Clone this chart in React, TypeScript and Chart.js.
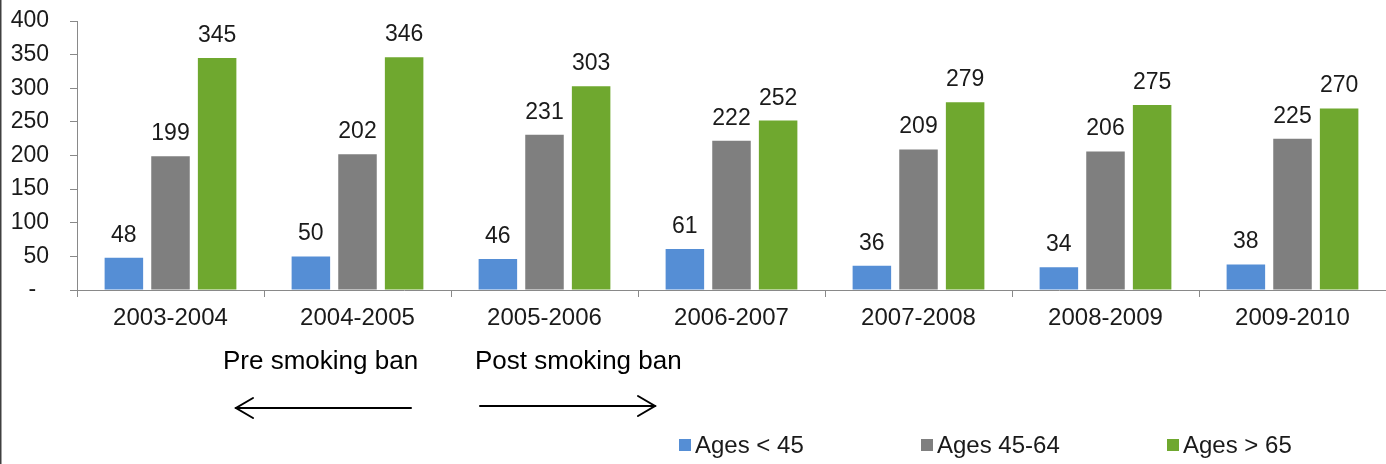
import React, { useEffect, useRef } from "react";
import { Chart, registerables } from "chart.js";

Chart.register(...registerables);

// Hospital admissions by age group, per financial year
const categories = [
  "2003-2004",
  "2004-2005",
  "2005-2006",
  "2006-2007",
  "2007-2008",
  "2008-2009",
  "2009-2010",
];
const under45 = [48, 50, 46, 61, 36, 34, 38];
const ages45to64 = [199, 202, 231, 222, 209, 206, 225];
const over65 = [345, 346, 303, 252, 279, 275, 270];

const seriesLabels = ["Ages < 45", "Ages 45-64", "Ages > 65"];
const seriesColors = ["#558ED5", "#7F7F7F", "#6FA82F"];

const yMax = 400;
const yStep = 50;

const FONT = "'Liberation Sans', Arial, sans-serif";
const AXIS_COLOR = "#898989";
const TEXT_COLOR = "#1a1a1a";

// Value labels above every bar
const valueLabels = {
  id: "valueLabels",
  afterDatasetsDraw(chart: any) {
    const ctx = chart.ctx;
    ctx.save();
    ctx.font = `23px ${FONT}`;
    ctx.fillStyle = TEXT_COLOR;
    ctx.textAlign = "center";
    ctx.textBaseline = "alphabetic";
    chart.data.datasets.forEach((ds: any, i: number) => {
      const meta = chart.getDatasetMeta(i);
      meta.data.forEach((bar: any, j: number) => {
        ctx.fillText(String(ds.data[j]), bar.x, bar.y - 16);
      });
    });
    ctx.restore();
  },
};

// Frame line, smoking-ban notes with arrows, and the legend row
const decorations = {
  id: "decorations",
  afterDraw(chart: any) {
    const ctx = chart.ctx;
    ctx.save();

    // left frame line
    ctx.strokeStyle = "#404040";
    ctx.lineWidth = 1.5;
    ctx.beginPath();
    ctx.moveTo(0.75, 0);
    ctx.lineTo(0.75, chart.height);
    ctx.stroke();

    // notes
    ctx.fillStyle = "#000";
    ctx.font = `26px ${FONT}`;
    ctx.textAlign = "left";
    ctx.textBaseline = "alphabetic";
    ctx.fillText("Pre smoking ban", 223, 369);
    ctx.fillText("Post smoking ban", 475, 369);

    // arrows
    ctx.strokeStyle = "#000";
    ctx.lineWidth = 2;
    ctx.lineCap = "round";
    ctx.lineJoin = "miter";
    const arrow = (x1: number, x2: number, y: number) => {
      // shaft from x1 to the tip at x2
      const dir = x2 > x1 ? 1 : -1;
      ctx.beginPath();
      ctx.moveTo(x1, y);
      ctx.lineTo(x2, y);
      ctx.stroke();
      ctx.beginPath();
      ctx.moveTo(x2 - dir * 17, y - 10);
      ctx.lineTo(x2, y);
      ctx.lineTo(x2 - dir * 17, y + 10);
      ctx.stroke();
    };
    arrow(411, 236, 408);
    arrow(480, 655, 406);

    // legend
    const starts = [679, 921, 1167];
    ctx.font = `24px ${FONT}`;
    ctx.textBaseline = "alphabetic";
    chart.data.datasets.forEach((ds: any, i: number) => {
      const x = starts[i];
      ctx.fillStyle = ds.backgroundColor;
      ctx.fillRect(x, 439, 12, 12);
      ctx.fillStyle = TEXT_COLOR;
      ctx.fillText(ds.label, x + 16, 453);
    });

    ctx.restore();
  },
};

export default function App() {
  const canvasRef = useRef<HTMLCanvasElement | null>(null);

  useEffect(() => {
    document.body.style.margin = "0";
    const canvas = canvasRef.current;
    if (!canvas) return;

    const chart = new Chart(canvas, {
      type: "bar",
      data: {
        labels: categories,
        datasets: [under45, ages45to64, over65].map((values, i) => ({
          label: seriesLabels[i],
          data: values,
          backgroundColor: seriesColors[i],
          borderWidth: 0,
          categoryPercentage: 0.748,
          barPercentage: 0.826,
        })),
      },
      options: {
        responsive: false,
        animation: false,
        devicePixelRatio: 1,
        layout: { padding: { top: 21, left: 0, right: 0, bottom: 0 } },
        plugins: {
          legend: { display: false },
          tooltip: { enabled: false },
        },
        scales: {
          x: {
            grid: {
              offset: true,
              drawOnChartArea: false,
              drawTicks: true,
              tickLength: 7,
              color: AXIS_COLOR,
            },
            border: { color: AXIS_COLOR, width: 1 },
            ticks: {
              color: TEXT_COLOR,
              font: { family: FONT, size: 24 },
              padding: 7,
              maxRotation: 0,
            },
            afterFit: (s: any) => {
              s.height = 174;
              s.paddingLeft = 0;
              s.paddingRight = 0;
            },
          },
          y: {
            min: 0,
            max: yMax,
            grid: {
              drawOnChartArea: false,
              drawTicks: true,
              tickLength: 7,
              color: AXIS_COLOR,
            },
            border: { color: AXIS_COLOR, width: 1 },
            ticks: {
              stepSize: yStep,
              color: TEXT_COLOR,
              font: { family: FONT, size: 23 },
              padding: 21,
              callback: (v: any) => (v === 0 ? "-  " : String(v)),
            },
            afterFit: (s: any) => {
              s.width = 77;
              s.paddingTop = 0;
              s.paddingBottom = 0;
            },
          },
        },
      },
      plugins: [valueLabels, decorations],
    });

    return () => chart.destroy();
  }, []);

  return (
    <div style={{ width: 1386, height: 464, background: "#fff" }}>
      <canvas ref={canvasRef} width={1386} height={464} />
    </div>
  );
}
